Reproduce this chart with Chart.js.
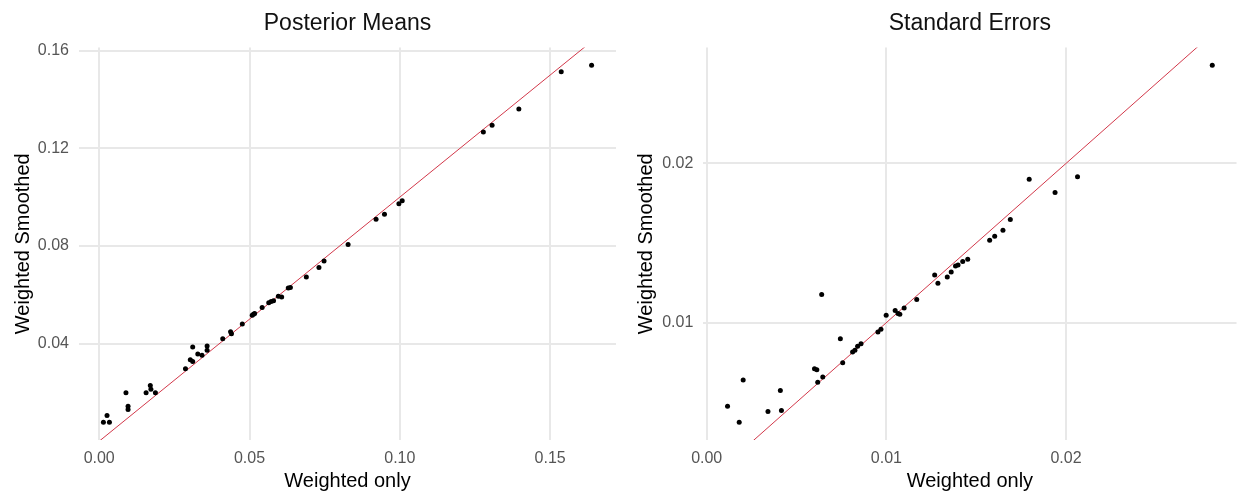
<!DOCTYPE html>
<html>
<head>
<meta charset="utf-8">
<script src="https://cdn.jsdelivr.net/npm/chart.js@4.4.1/dist/chart.umd.min.js"></script>
<style>
  html, body { margin: 0; padding: 0; background: #fff; }
  .panel { position: absolute; top: 0; height: 493px; }
  #left-panel { left: 0; width: 620px; }
  #right-panel { left: 620px; width: 619px; }
</style>
</head>
<body>
<div class="panel" id="left-panel"><canvas id="means-chart" width="620" height="493"></canvas></div>
<div class="panel" id="right-panel"><canvas id="se-chart" width="619" height="493"></canvas></div>
<script>
// Posterior means: weighted only (x) vs weighted smoothed (y)
const meansX = [0.0014, 0.0026, 0.0034, 0.0089, 0.0096, 0.0096, 0.0156, 0.0170, 0.0172, 0.0187,
    0.0287, 0.0303, 0.0311, 0.0311, 0.0328, 0.0342, 0.0359, 0.0359, 0.0411, 0.0437,
    0.0440, 0.0476, 0.0509, 0.0513, 0.0517, 0.0542, 0.0564, 0.0572, 0.0580, 0.0596,
    0.0607, 0.0629, 0.0636, 0.0689, 0.0731, 0.0748, 0.0828, 0.0921, 0.0949, 0.0997,
    0.1008, 0.1278, 0.1307, 0.1396, 0.1537, 0.1638];
const meansY = [0.0078, 0.0105, 0.0078, 0.0199, 0.0143, 0.0130, 0.0199, 0.0228, 0.0213, 0.0199,
    0.0297, 0.0334, 0.0327, 0.0386, 0.0357, 0.0352, 0.0390, 0.0373, 0.0420, 0.0448,
    0.0440, 0.0480, 0.0516, 0.0520, 0.0523, 0.0548, 0.0567, 0.0572, 0.0575, 0.0594,
    0.0591, 0.0628, 0.0630, 0.0673, 0.0712, 0.0738, 0.0806, 0.0909, 0.0930, 0.0973,
    0.0985, 0.1267, 0.1295, 0.1361, 0.1514, 0.1540];

// Standard errors
const seX = [0.00116, 0.00181, 0.00203, 0.00341, 0.00410, 0.00416, 0.00600, 0.00613, 0.00618, 0.00646,
    0.00640, 0.00744, 0.00757, 0.00812, 0.00825, 0.00840, 0.00859, 0.00953, 0.00970, 0.00999,
    0.01049, 0.01065, 0.01075, 0.01099, 0.01169, 0.01269, 0.01287, 0.01339, 0.01361, 0.01385,
    0.01399, 0.01425, 0.01453, 0.01575, 0.01603, 0.01649, 0.01690, 0.01795, 0.01939, 0.02064,
    0.02814];
const seY = [0.00475, 0.00375, 0.00639, 0.00442, 0.00574, 0.00448, 0.00711, 0.00704, 0.00626, 0.00658,
    0.01176, 0.00899, 0.00748, 0.00815, 0.00826, 0.00851, 0.00868, 0.00941, 0.00958, 0.01046,
    0.01077, 0.01057, 0.01052, 0.01092, 0.01145, 0.01299, 0.01247, 0.01287, 0.01318, 0.01356,
    0.01362, 0.01384, 0.01398, 0.01518, 0.01543, 0.01580, 0.01648, 0.01901, 0.01818, 0.01916,
    0.02616];

const meansXTicks = [0, 0.05, 0.10, 0.15];
const meansYTicks = [0.04, 0.08, 0.12, 0.16];
const seXTicks = [0, 0.01, 0.02];
const seYTicks = [0.01, 0.02];

// y = x reference line
const diagonal = [0, 0.2];

const FONT = '"Liberation Sans", Arial, sans-serif';

// ggplot style 5% expansion of the data range
function expand(values) {
    const min = Math.min(...values), max = Math.max(...values);
    const pad = (max - min) * 0.05;
    return { min: min - pad, max: max + pad };
}

function makeChart(canvasId, opts) {
    const xr = expand(opts.xs), yr = expand(opts.ys);
    const points = opts.xs.map((x, i) => ({ x: x, y: opts.ys[i] }));
    const line = diagonal.map(v => ({ x: v, y: v }));

    return new Chart(document.getElementById(canvasId), {
        type: 'scatter',
        data: {
            datasets: [
                { data: points, backgroundColor: '#000', borderWidth: 0, pointRadius: 2.5, pointHoverRadius: 2.5 },
                { data: line, showLine: true, borderColor: '#d2384a', borderWidth: 1, pointRadius: 0 }
            ]
        },
        options: {
            responsive: false,
            animation: false,
            devicePixelRatio: 1,
            layout: { padding: { left: 0, right: opts.rightPad, top: 0, bottom: 0 } },
            plugins: {
                legend: { display: false },
                tooltip: { enabled: false },
                title: {
                    display: true,
                    text: opts.title,
                    fullSize: false,
                    color: '#111',
                    font: { family: FONT, size: 23, weight: 'normal' },
                    padding: { top: 9.5, bottom: 10.4 }
                }
            },
            scales: {
                x: {
                    type: 'linear',
                    min: xr.min, max: xr.max,
                    afterBuildTicks: s => { s.ticks = opts.xTicks.map(v => ({ value: v })); },
                    afterFit: s => { s.height = 53; },
                    grid: { color: '#e8e8e8', lineWidth: 2, drawTicks: false },
                    border: { display: false },
                    ticks: {
                        padding: 9,
                        color: '#555',
                        font: { family: FONT, size: 16 },
                        callback: v => v.toFixed(2)
                    },
                    title: {
                        display: true,
                        text: 'Weighted only',
                        color: '#000',
                        font: { family: FONT, size: 20 },
                        padding: { top: 0, bottom: 0 }
                    }
                },
                y: {
                    type: 'linear',
                    min: yr.min, max: yr.max,
                    afterBuildTicks: s => { s.ticks = opts.yTicks.map(v => ({ value: v })); },
                    afterFit: s => { s.width = opts.yAxisWidth; },
                    grid: { color: '#e8e8e8', lineWidth: 2, drawTicks: false },
                    border: { display: false },
                    ticks: {
                        padding: 10,
                        color: '#555',
                        font: { family: FONT, size: 16 },
                        callback: v => v.toFixed(2)
                    },
                    title: {
                        display: true,
                        text: 'Weighted Smoothed',
                        color: '#000',
                        font: { family: FONT, size: 20 },
                        padding: { top: opts.yTitlePad, bottom: 0 }
                    }
                }
            }
        }
    });
}

makeChart('means-chart', {
    title: 'Posterior Means', xs: meansX, ys: meansY,
    xTicks: meansXTicks, yTicks: meansYTicks,
    yAxisWidth: 79, yTitlePad: 11, rightPad: 4
});

makeChart('se-chart', {
    title: 'Standard Errors', xs: seX, ys: seY,
    xTicks: seXTicks, yTicks: seYTicks,
    yAxisWidth: 83.3, yTitlePad: 14, rightPad: 0
});
</script>
</body>
</html>
